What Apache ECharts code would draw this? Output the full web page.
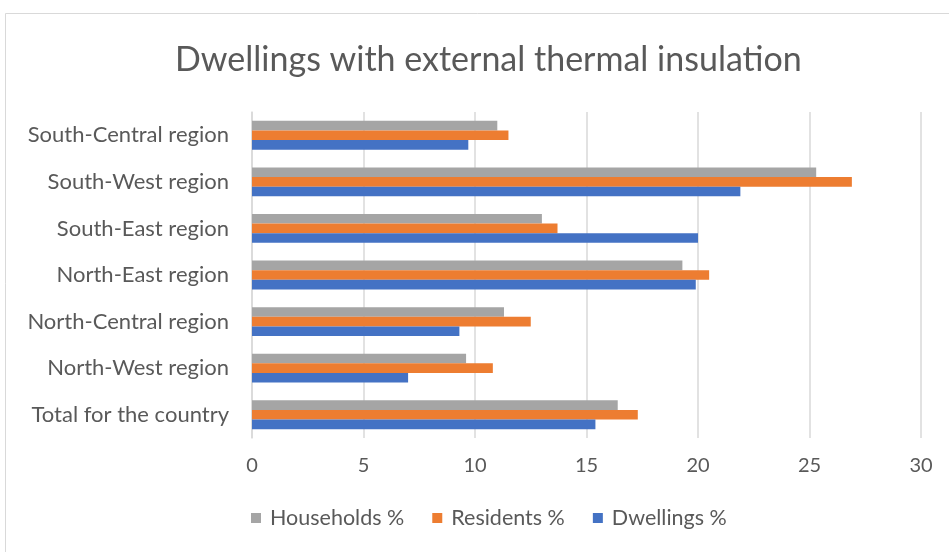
<!DOCTYPE html>
<html>
<head>
<meta charset="utf-8">
<script src="https://cdn.jsdelivr.net/npm/echarts@6/dist/echarts.min.js"></script>
<style>
  html, body { margin: 0; padding: 0; background: #fff; }
  #chart { width: 949px; height: 552px; }
</style>
</head>
<body>
<div id="chart"></div>
<script>
// Regions, bottom to top (category axis starts at the bottom)
const regions = [
    'Total for the country',
    'North-West region',
    'North-Central region',
    'North-East region',
    'South-East region',
    'South-West region',
    'South-Central region'
];

const dwellings = [15.4, 7.0, 9.3, 19.9, 20.0, 21.9, 9.7];
const residents = [17.3, 10.8, 12.5, 20.5, 13.7, 26.9, 11.5];
const households = [16.4, 9.6, 11.3, 19.3, 13.0, 25.3, 11.0];

const xTicks = [0, 5, 10, 15, 20, 25, 30];

const font = 'Lato';
const textColor = '#595959';

const chart = echarts.init(document.getElementById('chart'));

chart.setOption({
    backgroundColor: '#fff',
    animation: false,
    title: {
        text: 'Dwellings with external thermal insulation',
        left: 170,
        top: 38,
        textStyle: { fontFamily: font, fontSize: 34, fontWeight: 'normal', color: textColor }
    },
    graphic: [{
        type: 'rect',
        shape: { x: 5.5, y: 13.5, width: 960, height: 560 },
        style: { fill: 'none', stroke: '#d9d9d9', lineWidth: 1 }
    }],
    legend: {
        bottom: 18,
        left: 246,
        itemWidth: 10,
        itemHeight: 10,
        itemGap: 28,
        icon: 'rect',
        data: ['Households %', 'Residents %', 'Dwellings %'],
        textStyle: { fontFamily: font, fontSize: 21.5, color: textColor, padding: [0, 0, 0, 4] }
    },
    grid: { left: 252, right: 28, top: 112, bottom: 114 },
    xAxis: {
        type: 'value',
        min: xTicks[0],
        max: xTicks[xTicks.length - 1],
        interval: 5,
        axisLine: { show: false },
        axisTick: { show: false },
        axisLabel: { fontFamily: font, fontSize: 20, color: textColor, margin: 18 },
        splitLine: { lineStyle: { color: '#d9d9d9', width: 1.5 } }
    },
    yAxis: {
        type: 'category',
        data: regions,
        axisLine: { show: true, lineStyle: { color: '#d9d9d9', width: 1.5 } },
        axisTick: { show: false },
        axisLabel: { fontFamily: font, fontSize: 22, color: textColor, margin: 23 }
    },
    series: [
        {
            name: 'Households %', type: 'bar', data: households,
            itemStyle: { color: '#a5a5a5' }, barGap: 0, barCategoryGap: '38%'
        },
        {
            name: 'Residents %', type: 'bar', data: residents,
            itemStyle: { color: '#ed7d31' }, barGap: 0, barCategoryGap: '38%'
        },
        {
            name: 'Dwellings %', type: 'bar', data: dwellings,
            itemStyle: { color: '#4472c4' }, barGap: 0, barCategoryGap: '38%'
        }
    ]
});
</script>
</body>
</html>
